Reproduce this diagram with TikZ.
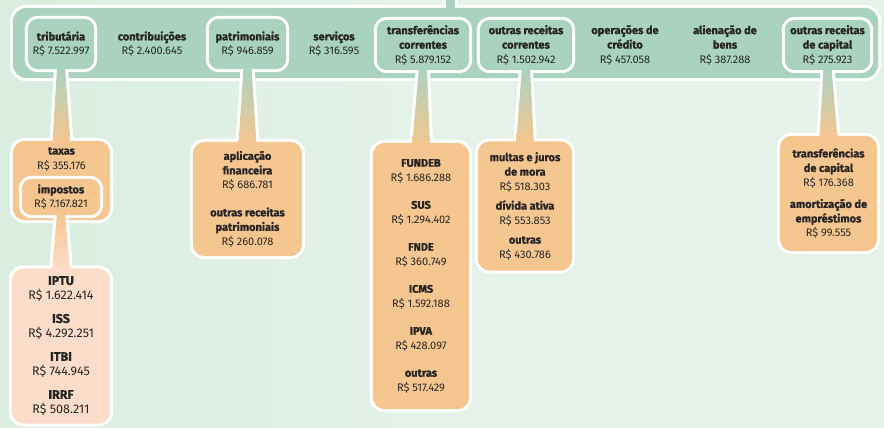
\documentclass[tikz,border=0pt]{standalone}
\usepackage{fontspec}
\setmainfont{Fira Sans}[BoldFeatures={FakeBold=1.2}]
\usetikzlibrary{backgrounds,shadows}

\definecolor{bg}{HTML}{E5F2EA}
\definecolor{bgleft}{HTML}{D9EEDF}
\definecolor{tagreen}{HTML}{A9D3BF}
\definecolor{taorange}{HTML}{F5C690}
\definecolor{tapeach}{HTML}{FCDDC9}
\definecolor{ink}{HTML}{262524}

\newcommand\fs{\fontsize{11}{14.5}\selectfont}
\newcommand\fb{\fontsize{12.5}{15}\selectfont}
\newcommand\lbl[1]{\textbf{#1}}

\tikzset{
  item/.style={align=center, font=\fs, text=ink, inner sep=0pt},
  box/.style={item, minimum width=#1},
  edge/.style={draw=white, line width=6pt, line join=round},
  lowshadow/.style={drop shadow={opacity=.22, shadow xshift=2pt, shadow yshift=-2.5pt}},
}

\begin{document}
\begin{tikzpicture}[x=1pt, y=-1pt]
\useasboundingbox (0,0) rectangle (884,428);

% top bar
\node[box=865, minimum height=70] (bar) at (445.5,43) {};
\coordinate (up) at (450.5,-12);

\node[box=66, minimum height=50] (trib)   at (61,44)    {\lbl{tributária}\\R\$ 7.522.997};
\node[item]                      (contr)  at (152,44)   {\lbl{contribuições}\\R\$ 2.400.645};
\node[box=77, minimum height=50] (patr)   at (247.5,44) {\lbl{patrimoniais}\\R\$ 946.859};
\node[item]                      (serv)   at (334,44)   {\lbl{serviços}\\R\$ 316.595};
\node[box=92, minimum height=50] (transf) at (423,45)   {\lbl{transferências}\\\lbl{correntes}\\R\$ 5.879.152};
\node[box=92, minimum height=50] (orc)    at (526,45)   {\lbl{outras receitas}\\\lbl{correntes}\\R\$ 1.502.942};
\node[item]                      (opcr)   at (625,45)   {\lbl{operações de}\\\lbl{crédito}\\R\$ 457.058};
\node[item]                      (alien)  at (725,45)   {\lbl{alienação de}\\\lbl{bens}\\R\$ 387.288};
\node[box=85, minimum height=50] (orcap)  at (827.5,45) {\lbl{outras receitas}\\\lbl{de capital}\\R\$ 275.923};

% boxes below
\node[box=97, minimum height=79]  (taxas) at (61.5,180.5) {};
\node[item] (taxastxt) at (61.5,159) {\lbl{taxas}\\R\$ 355.176};
\node[box=78, minimum height=36]  (impostos) at (61,197) {\lbl{impostos}\\R\$ 7.167.821};
\node[box=98, minimum height=155, font=\fb] (light) at (61,346)
  {\lbl{IPTU}\\R\$ 1.622.414\\[8pt]\lbl{ISS}\\R\$ 4.292.251\\[8pt]\lbl{ITBI}\\R\$ 744.945\\[8pt]\lbl{IRRF}\\R\$ 508.211};
\node[box=109, minimum height=114] (aplic) at (247.5,199)
  {\lbl{aplicação}\\\lbl{financeira}\\R\$ 686.781\\[13pt]\lbl{outras receitas}\\\lbl{patrimoniais}\\R\$ 260.078};
\node[box=96, minimum height=266] (tlist) at (421,276)
  {\lbl{FUNDEB}\\R\$ 1.686.288\\[13pt]\lbl{SUS}\\R\$ 1.294.402\\[13pt]\lbl{FNDE}\\R\$ 360.749\\[13pt]%
   \lbl{ICMS}\\R\$ 1.592.188\\[13pt]\lbl{IPVA}\\R\$ 428.097\\[13pt]\lbl{outras}\\R\$ 517.429};
\node[box=94, minimum height=129] (olist) at (525,206)
  {\lbl{multas e juros}\\\lbl{de mora}\\R\$ 518.303\\[5pt]\lbl{dívida ativa}\\R\$ 553.853\\[5pt]\lbl{outras}\\R\$ 430.786};
\node[box=97, minimum height=115] (cap) at (828.5,193.5)
  {\lbl{transferências}\\\lbl{de capital}\\R\$ 176.368\\[7pt]\lbl{amortização de}\\\lbl{empréstimos}\\R\$ 99.555};

\begin{scope}[on background layer]
\shade[left color=bgleft, right color=bg, middle color=bg] (0,0) rectangle (884,428);

% bar and its pointer up
\draw[edge, rounded corners=14pt] (bar.north west) rectangle (bar.south east);
\draw[edge] ([xshift=-4.5pt]up) -- ([xshift=-4.5pt]up |- bar.north) -- ([xshift=4.5pt]up |- bar.north) -- ([xshift=4.5pt]up);
\fill[tagreen, rounded corners=14pt] (bar.north west) rectangle (bar.south east);
\fill[tagreen] ([xshift=-4.5pt]up) rectangle ([xshift=4.5pt,yshift=-3pt]up |- bar.north);

% outlines
\foreach \n in {trib,patr,transf,orc,orcap}
  \draw[edge, rounded corners=10pt] (\n.north west) rectangle (\n.south east);
\foreach \a/\b in {trib/taxas,patr/aplic,transf/tlist,orc/olist,orcap/cap}
  \draw[edge] ([xshift=-4pt,yshift=2pt]\a.south) -- ([xshift=4pt,yshift=2pt]\a.south)
    -- ([xshift=9pt,yshift=-2pt]\b.north) -- ([xshift=-9pt,yshift=-2pt]\b.north) -- cycle;
\foreach \n in {taxas,aplic,tlist,olist,cap}
  \draw[edge, lowshadow, rounded corners=12pt] (\n.north west) rectangle (\n.south east);

% fills
\foreach \n in {trib,patr,transf,orc,orcap}
  \fill[tagreen, rounded corners=10pt] (\n.north west) rectangle (\n.south east);
\foreach \a/\b in {trib/taxas,patr/aplic,transf/tlist,orc/olist,orcap/cap}
  \shade[top color=tagreen, bottom color=taorange] ([xshift=-4pt,yshift=2pt]\a.south) -- ([xshift=4pt,yshift=2pt]\a.south)
    -- ([xshift=9pt,yshift=-2pt]\b.north) -- ([xshift=-9pt,yshift=-2pt]\b.north) -- cycle;
\foreach \n in {taxas,aplic,tlist,olist,cap}
  \fill[taorange, rounded corners=12pt] (\n.north west) rectangle (\n.south east);

% impostos and the box below it
\draw[edge, rounded corners=10pt] (impostos.north west) rectangle (impostos.south east);
\draw[edge] ([xshift=-4pt,yshift=2pt]impostos.south) -- ([xshift=4pt,yshift=2pt]impostos.south)
  -- ([xshift=9pt,yshift=-2pt]light.north) -- ([xshift=-9pt,yshift=-2pt]light.north) -- cycle;
\draw[edge, lowshadow, rounded corners=12pt] (light.north west) rectangle (light.south east);
\fill[taorange, rounded corners=10pt] (impostos.north west) rectangle (impostos.south east);
\shade[top color=taorange, bottom color=tapeach] ([xshift=-4pt,yshift=2pt]impostos.south) -- ([xshift=4pt,yshift=2pt]impostos.south)
  -- ([xshift=9pt,yshift=-2pt]light.north) -- ([xshift=-9pt,yshift=-2pt]light.north) -- cycle;
\fill[tapeach, rounded corners=12pt] (light.north west) rectangle (light.south east);
\end{scope}

\end{tikzpicture}
\end{document}
